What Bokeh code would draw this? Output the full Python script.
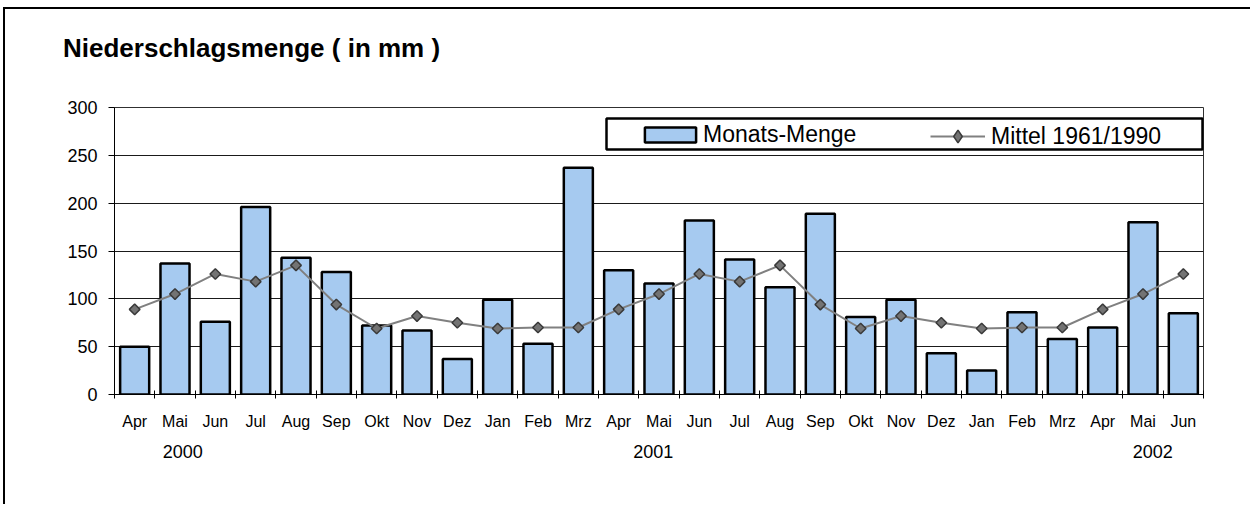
import numpy as np
from bokeh.plotting import figure
from bokeh.layouts import column
from bokeh.models import (Range1d, FixedTicker, BoxAnnotation, Legend, LegendItem,
                          LinearAxis, Div)
from bokeh.embed import file_html
from bokeh.resources import INLINE

# ---- data ----
title_text = "Niederschlagsmenge ( in mm )"
months = ["Apr", "Mai", "Jun", "Jul", "Aug", "Sep", "Okt", "Nov", "Dez",
          "Jan", "Feb", "Mrz", "Apr", "Mai", "Jun", "Jul", "Aug", "Sep", "Okt", "Nov", "Dez",
          "Jan", "Feb", "Mrz", "Apr", "Mai", "Jun"]
monats_menge = [50, 137, 76, 196, 143, 128, 72, 67, 37,
                99, 53, 237, 130, 116, 182, 141, 112, 189, 81, 99, 43,
                25, 86, 58, 70, 180, 85]
mittel_1961_1990 = [89, 105, 126, 118, 135, 94, 69, 82, 75,
                    69, 70, 70, 89, 105, 126, 118, 135, 94, 69, 82, 75,
                    69, 70, 70, 89, 105, 126]
years = ["2000", "2001", "2002"]
y_ticks = [0, 50, 100, 150, 200, 250, 300]

# label positions (in category units)
year_label_pos = [1.69, 13.36, 25.74]

FONT = "Liberation Sans"
n = len(months)
centers = [i + 0.5 for i in range(n)]

W = 1247
DIV_H = 60
H = 497 - DIV_H

title_div = Div(
    text=('<div style="padding-top:24px; padding-left:58px; white-space:nowrap; '
          'font-family:\'Liberation Sans\', Arial, sans-serif; font-size:26px; '
          'font-weight:bold; line-height:30px; color:black;">' + title_text + '</div>'),
    width=W, height=DIV_H, margin=(0, 0, 0, 0))

p = figure(width=W, height=H, output_backend="svg", toolbar_location=None,
           x_range=Range1d(0, n), y_range=Range1d(0, 300),
           min_border_left=109, min_border_right=49, min_border_top=38, min_border_bottom=112,
           background_fill_color="white", border_fill_color="white")
p.margin = (0, 0, 0, 0)
p.outline_line_color = "#303030"
p.outline_line_width = 1

p.xgrid.visible = False
p.ygrid.grid_line_color = "#1a1a1a"
p.ygrid.grid_line_width = 1
p.ygrid.ticker = FixedTicker(ticks=y_ticks)

# y axis
p.yaxis.ticker = FixedTicker(ticks=y_ticks)
p.yaxis.axis_line_color = "black"
p.yaxis.major_tick_line_color = "black"
p.yaxis.major_tick_in = 0
p.yaxis.major_tick_out = 6
p.yaxis.minor_tick_line_color = None
p.yaxis.major_label_standoff = 11
p.yaxis.major_label_text_font = FONT
p.yaxis.major_label_text_font_size = "18px"
p.yaxis.major_label_text_color = "black"

# x axis: month labels at centers, ticks at boundaries
p.xaxis.ticker = FixedTicker(ticks=centers, minor_ticks=list(range(n + 1)))
p.xaxis.major_label_overrides = {float(c): m for c, m in zip(centers, months)}
p.xaxis.axis_line_color = "black"
p.xaxis.major_tick_in = 0
p.xaxis.major_tick_out = 0
p.xaxis.minor_tick_in = 4
p.xaxis.minor_tick_out = 4
p.xaxis.minor_tick_line_color = "black"
p.xaxis.major_label_standoff = 14
p.xaxis.major_label_text_font = "Liberation Sans Narrow, Liberation Sans"
p.xaxis.major_label_text_font_size = "16px"
p.xaxis.major_label_text_color = "black"

# second row: years
year_axis = LinearAxis(ticker=FixedTicker(ticks=year_label_pos, minor_ticks=[]),
                       major_label_overrides={float(x): y for x, y in zip(year_label_pos, years)},
                       axis_line_color=None, major_tick_line_color=None,
                       minor_tick_line_color=None, major_tick_in=0, major_tick_out=0,
                       major_label_standoff=12, major_label_text_font=FONT,
                       major_label_text_font_size="18px", major_label_text_color="black")
p.add_layout(year_axis, "below")

bars = p.vbar(x=centers, top=monats_menge, width=0.72, bottom=0,
              fill_color="#A6CAF0", line_color="black", line_width=2.5)
line_r = p.line(x=centers, y=mittel_1961_1990, line_color="#808080", line_width=2)
pts = p.scatter(x=centers, y=mittel_1961_1990, marker="square", angle=np.pi / 4, size=7.5,
                fill_color="#737373", line_color="#3a3a3a", line_width=1.5)
# legend-only swatch marker (diamond shape), holds no visible data point
leg_marker = p.scatter(x=[float("nan")], y=[float("nan")], marker="diamond", size=13,
                       fill_color="#737373", line_color="#3a3a3a", line_width=1.5)

common = dict(orientation="horizontal", padding=0, margin=0,
              label_text_font=FONT, label_text_font_size="23px", label_text_color="black",
              border_line_alpha=0, background_fill_alpha=0)
leg1 = Legend(items=[LegendItem(label="Monats-Menge", renderers=[bars])],
              location=(524, 246), glyph_width=64, glyph_height=19, label_standoff=1, **common)
leg2 = Legend(items=[LegendItem(label="Mittel 1961/1990", renderers=[line_r, leg_marker])],
              location=(816, 242), glyph_width=55, glyph_height=32, label_standoff=6, **common)
p.add_layout(leg1)
p.add_layout(leg2)

p.add_layout(BoxAnnotation(left=601, right=1197, top=49, bottom=80,
                           left_units="canvas", right_units="canvas",
                           top_units="canvas", bottom_units="canvas",
                           fill_alpha=0, line_color="black", line_alpha=1, line_width=2.5))

layout = column(title_div, p, spacing=0)
layout.styles = {"margin-left": "5px", "margin-top": "9px",
                 "box-shadow": "-2px -2px 0px 0px black", "background-color": "white"}

open("out.html", "w").write(file_html(layout, INLINE))
